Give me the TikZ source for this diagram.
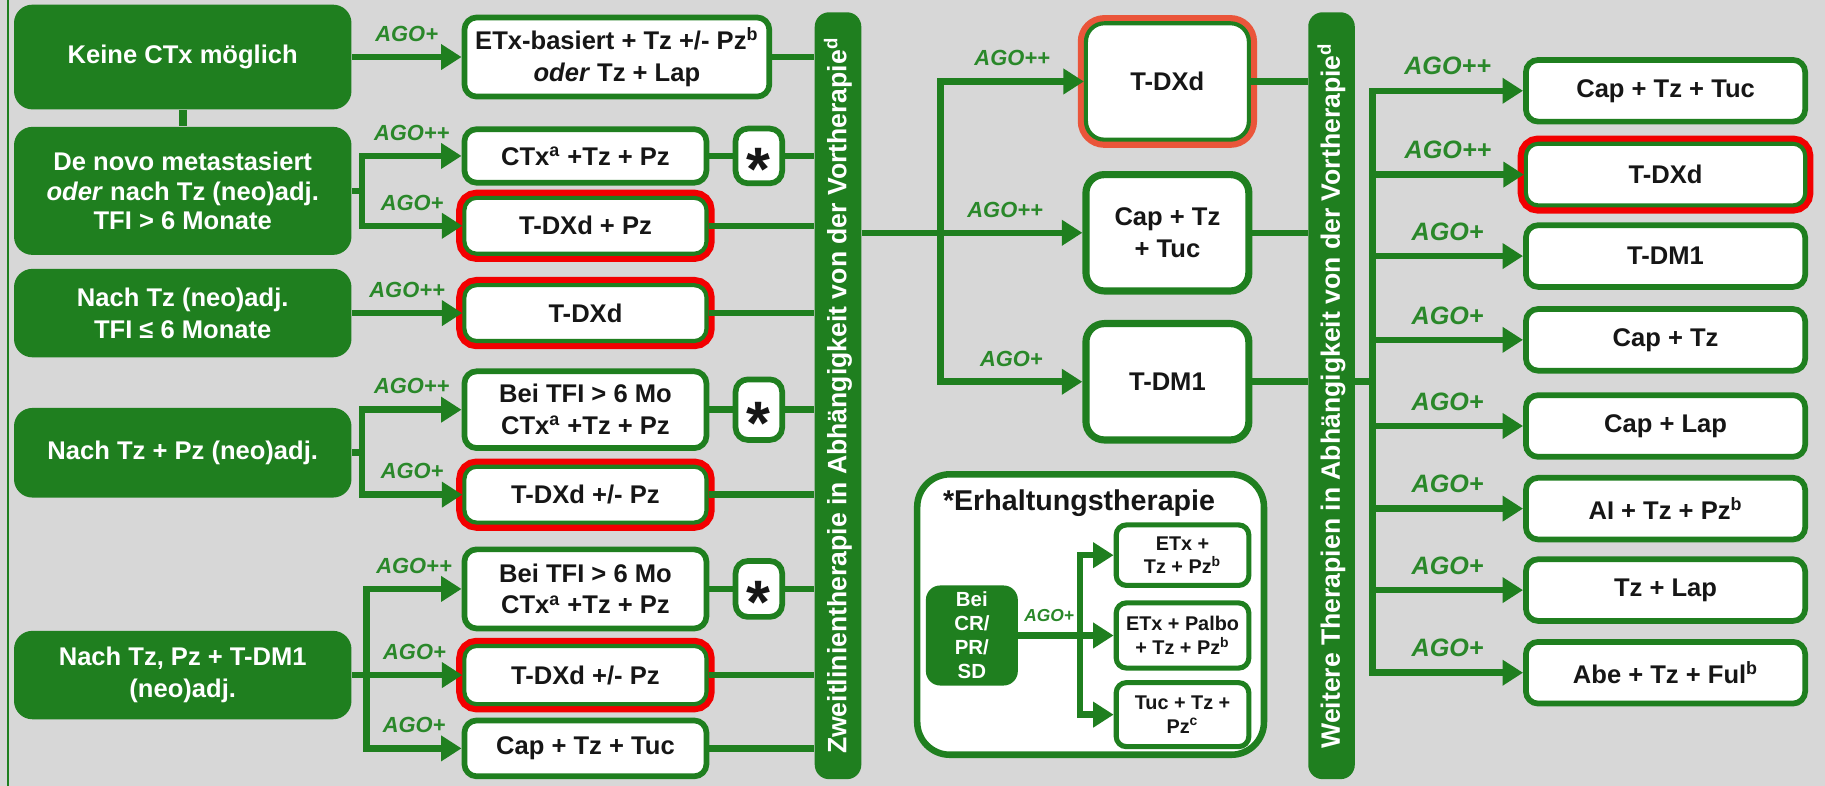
\documentclass[tikz,border=0pt]{standalone}
\usepackage{fontspec}
\setmainfont{Liberation Sans}
\usetikzlibrary{positioning, arrows.meta}
\definecolor{agobg}{HTML}{D7D7D7}
\definecolor{agogreen}{HTML}{1F7F1F}
\definecolor{agolabel}{HTML}{2A882A}
\definecolor{agored}{HTML}{F20000}
\definecolor{agoorange}{HTML}{EA553A}
\definecolor{agoink}{HTML}{161616}

\begin{document}
\begin{tikzpicture}[x=0.02cm, y=-0.02cm,
    start/.style={fill=agogreen, rounded corners=9pt, text=white, align=center,
                  minimum width=5.8cm, inner sep=2pt,
                  font=\fontsize{12.5}{14.5}\selectfont\bfseries},
    opt/.style={fill=white, draw=agogreen, line width=2.8pt, rounded corners=6pt,
                text=agoink, align=center, minimum width=4.16cm, inner sep=2pt,
                font=\fontsize{12.5}{15.5}\selectfont\bfseries},
    redopt/.style={opt, line width=2pt, preaction={draw=agored, line width=8pt}},
    orangeopt/.style={opt, line width=2pt, preaction={draw=agoorange, line width=8pt}},
    mid/.style={opt, line width=3.5pt, rounded corners=9pt, minimum width=2.8cm, minimum height=2.0cm},
    asterisk/.style={opt, minimum width=0.8cm, inner sep=0pt,
                     font=\fontsize{30}{30}\selectfont\bfseries},
    bar/.style={fill=agogreen, rounded corners=7pt, text=white, rotate=90,
                minimum width=13.18cm, minimum height=0.8cm, inner sep=0pt,
                font=\fontsize{13}{15}\selectfont\bfseries},
    small/.style={opt, line width=2.5pt, minimum width=2.28cm, rounded corners=5pt,
                  font=\fontsize{9.7}{11.5}\selectfont\bfseries},
    right/.style={opt, minimum width=4.8cm, minimum height=1.06cm},
    link/.style={agogreen, line width=3.2pt},
    arr/.style={link, -{Triangle[length=10pt, width=12pt]}},
    ago/.style={text=agolabel, above=5pt, inner sep=1pt,
                font=\fontsize{10.7}{12}\selectfont\bfseries\itshape},
    agobig/.style={ago, font=\fontsize{12.3}{14}\selectfont\bfseries\itshape},
    agosmall/.style={ago, above=4pt, font=\fontsize{8.5}{10}\selectfont\bfseries\itshape}]
  \fill[agobg] (0,0) rectangle (1568,675);
  \useasboundingbox (0,0) rectangle (1568,675);
  \draw[agogreen, line width=1.2pt] (7,0) -- (7,675);

  \node[start, minimum height=1.8cm] (keine) at (157,49) {Keine CTx möglich};
  \node[start, minimum height=2.2cm] (denovo) at (157,164)
    {De novo metastasiert\\\textit{oder} nach Tz (neo)adj.\\TFI > 6 Monate};
  \node[start, minimum height=1.52cm, font=\fontsize{12.5}{15.5}\selectfont\bfseries] (kurz) at (157,269)
    {Nach Tz (neo)adj.\\TFI ≤ 6 Monate};
  \node[start, minimum height=1.54cm] (tzpz) at (157,389) {Nach Tz + Pz (neo)adj.};
  \node[start, minimum height=1.52cm, font=\fontsize{12.5}{15.5}\selectfont\bfseries] (tdmone) at (157,580)
    {Nach Tz, Pz + T-DM1\\(neo)adj.};

  \node[opt, minimum width=5.24cm, minimum height=1.36cm] (etx) at (530,49)
    {ETx-basiert + Tz +/- Pz\textsuperscript{b}\\\textit{oder} Tz + Lap};
  \node[opt, minimum height=0.92cm] (ctxa) at (503,134) {CTx\textsuperscript{a} +Tz + Pz};
  \node[asterisk, minimum height=0.94cm] (sa) at (652,134) {\smash{\raisebox{-0.56em}{*}}};
  \node[redopt, minimum height=0.96cm] (dxpz) at (503,194) {T-DXd + Pz};
  \node[redopt, minimum height=0.96cm] (dxa) at (503,269) {T-DXd};
  \node[opt, minimum height=1.32cm] (ctxb) at (503,352) {Bei TFI > 6 Mo\\CTx\textsuperscript{a} +Tz + Pz};
  \node[asterisk, minimum height=1.04cm] (sb) at (652,352) {\smash{\raisebox{-0.56em}{*}}};
  \node[redopt, minimum height=0.96cm] (dxb) at (503,425) {T-DXd +/- Pz};
  \node[opt, minimum height=1.36cm] (ctxc) at (503,506) {Bei TFI > 6 Mo\\CTx\textsuperscript{a} +Tz + Pz};
  \node[asterisk, minimum height=0.96cm] (sc) at (652,506) {\smash{\raisebox{-0.56em}{*}}};
  \node[redopt, minimum height=1.0cm] (dxc) at (503,580) {T-DXd +/- Pz};
  \node[opt, minimum height=0.96cm] (captuc) at (503,643) {Cap + Tz + Tuc};

  \node[bar] (bar1) at (720,340) {Zweitlinientherapie in Abhängigkeit von der Vortherapie\textsuperscript{d}};

  \node[mid, line width=2pt, preaction={draw=agoorange, line width=8pt}] (mdxd) at (1003,70) {T-DXd};
  \node[mid] (mcap) at (1003,200) {Cap + Tz\\+ Tuc};
  \node[mid] (mdm) at (1003,328) {T-DM1};

  \node[opt, line width=3.2pt, minimum width=5.96cm, minimum height=4.82cm, rounded corners=16pt] (erh) at (937,528) {};
  \node[anchor=west, text=agoink, font=\fontsize{14}{16}\selectfont\bfseries] (erhtitle) at (804,432) {*Erhaltungstherapie};
  \node[fill=agogreen, rounded corners=7pt, text=white, align=center, minimum width=1.58cm,
        minimum height=1.72cm, inner sep=1pt, font=\fontsize{10}{11.8}\selectfont\bfseries] (bei) at (835,546)
    {Bei\\CR/\\PR/\\SD};
  \node[small, minimum height=1.04cm] (ea) at (1016,477) {ETx +\\Tz + Pz\textsuperscript{b}};
  \node[small, minimum height=1.12cm] (eb) at (1016,546) {ETx + Palbo\\+ Tz + Pz\textsuperscript{b}};
  \node[small, minimum height=1.1cm] (ec) at (1016,614) {Tuc + Tz +\\Pz\textsuperscript{c}};

  \node[bar] (bar2) at (1144,340) {Weitere Therapien in Abhängigkeit von der Vortherapie\textsuperscript{d}};

  \node[right] (rcap) at (1431,78) {Cap + Tz + Tuc};
  \node[right, line width=2pt, preaction={draw=agored, line width=8pt}] (rdxd) at (1431,150) {T-DXd};
  \node[right] (rdm) at (1431,220) {T-DM1};
  \node[right] (rcaptz) at (1431,292) {Cap + Tz};
  \node[right] (rcaplap) at (1431,366) {Cap + Lap};
  \node[right] (rai) at (1431,437) {AI + Tz + Pz\textsuperscript{b}};
  \node[right] (rtzlap) at (1431,507) {Tz + Lap};
  \node[right] (rabe) at (1431,578) {Abe + Tz + Ful\textsuperscript{b}};

  \draw[link, line width=4pt] (keine) -- (denovo);
  \draw[arr] (keine.east) -- (etx.west) node[ago, midway] {AGO+};
  \coordinate (fa) at (311,164);
  \draw[link] (denovo.east) -- (fa);
  \draw[arr] (fa) |- (ctxa.west) node[ago, pos=0.75] {AGO++};
  \draw[arr] (fa) |- (dxpz.west) node[ago, pos=0.75] {AGO+};
  \draw[arr] (kurz.east) -- (dxa.west) node[ago, midway] {AGO++};
  \coordinate (fb) at (311,389);
  \draw[link] (tzpz.east) -- (fb);
  \draw[arr] (fb) |- (ctxb.west) node[ago, pos=0.75] {AGO++};
  \draw[arr] (fb) |- (dxb.west) node[ago, pos=0.75] {AGO+};
  \coordinate (fc) at (315,580);
  \draw[link] (tdmone.east) -- (fc);
  \draw[arr] (fc) |- (ctxc.west) node[ago, pos=0.75] {AGO++};
  \draw[arr] (fc) -- (dxc.west) node[ago, midway] {AGO+};
  \draw[arr] (fc) |- (captuc.west) node[ago, pos=0.75] {AGO+};

  \draw[link] (etx.east) -- (etx.east -| bar1.north);
  \draw[link] (ctxa.east) -- (sa.west);
  \draw[link] (sa.east) -- (sa.east -| bar1.north);
  \draw[link] (dxpz.east) -- (dxpz.east -| bar1.north);
  \draw[link] (dxa.east) -- (dxa.east -| bar1.north);
  \draw[link] (ctxb.east) -- (sb.west);
  \draw[link] (sb.east) -- (sb.east -| bar1.north);
  \draw[link] (dxb.east) -- (dxb.east -| bar1.north);
  \draw[link] (ctxc.east) -- (sc.west);
  \draw[link] (sc.east) -- (sc.east -| bar1.north);
  \draw[link] (dxc.east) -- (dxc.east -| bar1.north);
  \draw[link] (captuc.east) -- (captuc.east -| bar1.north);

  \draw[arr] (bar1.south |- mcap.west) -- (mcap.west) node[ago, pos=0.65] {AGO++};
  \coordinate (fm) at (808,200);
  \draw[arr] (fm) |- (mdxd.west) node[ago, pos=0.75] {AGO++};
  \draw[arr] (fm) |- (mdm.west) node[ago, pos=0.75] {AGO+};
  \draw[link] (mdxd.east) -- (mdxd.east -| bar2.north);
  \draw[link] (mcap.east) -- (mcap.east -| bar2.north);
  \draw[link] (mdm.east) -- (mdm.east -| bar2.north);

  \coordinate (fe) at (928,546);
  \draw[link] (bei.east) -- (fe) node[agosmall, midway] {AGO+};
  \draw[arr] (fe) |- (ea.west);
  \draw[arr] (fe) -- (eb.west);
  \draw[arr] (fe) |- (ec.west);

  \coordinate (fr) at (1179,328);
  \draw[link] (bar2.south |- fr) -- (fr);
  \draw[arr] (fr) |- (rcap.west) node[agobig, pos=0.75] {AGO++};
  \draw[arr] (fr) |- (rdxd.west) node[agobig, pos=0.75] {AGO++};
  \draw[arr] (fr) |- (rdm.west) node[agobig, pos=0.75] {AGO+};
  \draw[arr] (fr) |- (rcaptz.west) node[agobig, pos=0.75] {AGO+};
  \draw[arr] (fr) |- (rcaplap.west) node[agobig, pos=0.75] {AGO+};
  \draw[arr] (fr) |- (rai.west) node[agobig, pos=0.75] {AGO+};
  \draw[arr] (fr) |- (rtzlap.west) node[agobig, pos=0.75] {AGO+};
  \draw[arr] (fr) |- (rabe.west) node[agobig, pos=0.75] {AGO+};
\end{tikzpicture}
\end{document}
